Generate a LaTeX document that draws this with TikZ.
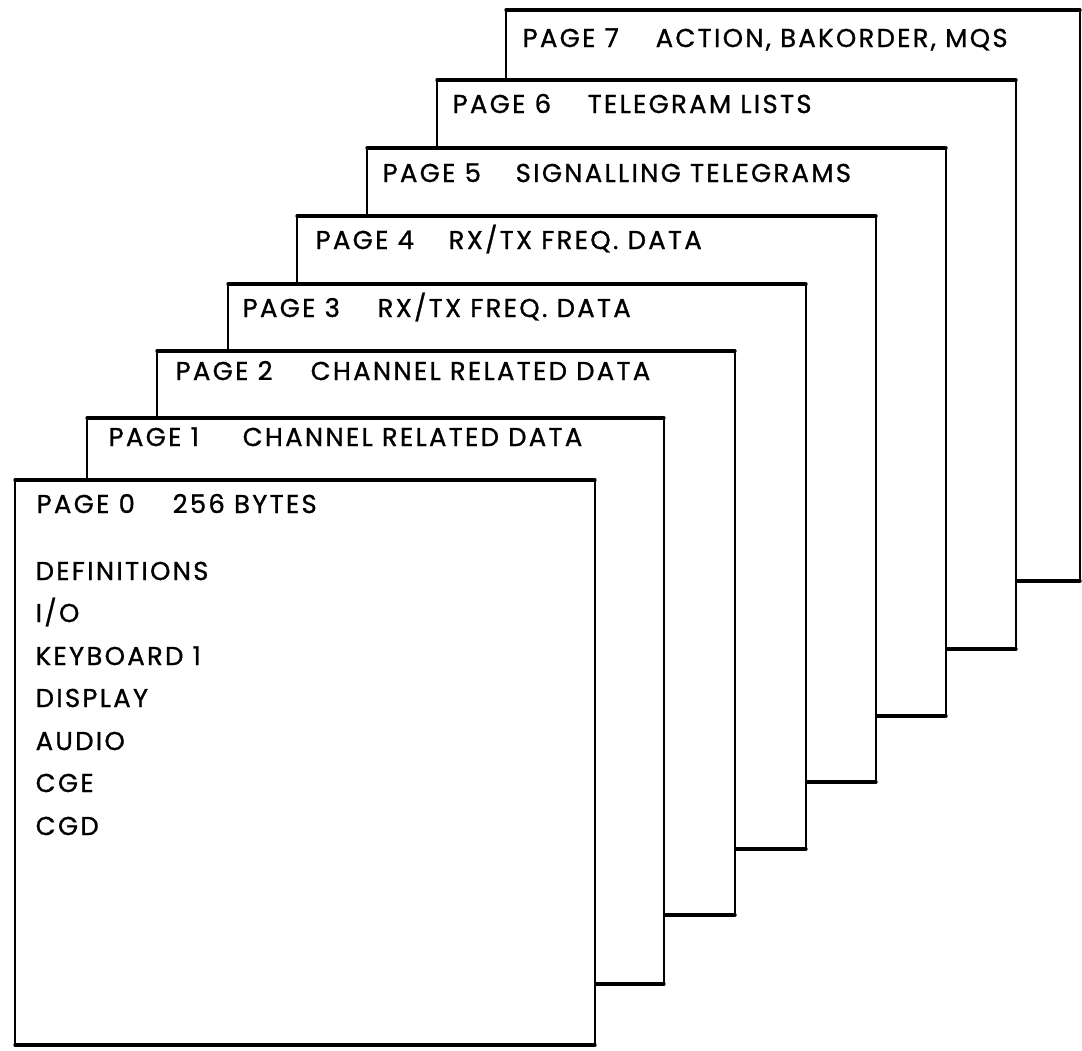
\documentclass[tikz,border=0pt]{standalone}
\usepackage{fontspec}
\newfontfamily\letterfont[LetterSpace=9,FakeBold=1]{Poppins}
\begin{document}
\begin{tikzpicture}[x=0.01cm,y=-0.01cm,
  sheetside/.style={line width=0.5pt},
  sheetedge/.style={line width=0.95pt, line cap=round},
  lettering/.style={anchor=base west, inner sep=0pt,
    font=\letterfont\fontsize{7.35}{8}\selectfont}]
\useasboundingbox (0,0) rectangle (1082,1050);

% stacked memory pages, drawn from the back (page 7) to the front (page 0)
\foreach \l/\t/\r/\b in {506/10/1080/581, 437/80/1016/649, 367/148/946/716,
    297/216/876/782, 228/284/806/849, 157/351/735/915, 87/418/664/984,
    15/480/595/1045}{
  \fill[white] (\l,\t) rectangle (\r,\b);
  \draw[sheetside] (\l,\t) -- (\l,\b) (\r,\t) -- (\r,\b);
  \draw[sheetedge] (\l,\t) -- (\r,\t) (\l,\b) -- (\r,\b);
}

% page headings
\node[lettering] (p7) at (522,47)  {PAGE 7};
\node[lettering] (d7) at (655,47)  {ACTION, BAKORDER, MQS};
\node[lettering] (p6) at (452,113) {PAGE 6};
\node[lettering] (d6) at (587,113) {TELEGRAM LISTS};
\node[lettering] (p5) at (382,182) {PAGE 5};
\node[lettering] (d5) at (515,182) {SIGNALLING TELEGRAMS};
\node[lettering] (p4) at (315,249) {PAGE 4};
\node[lettering] (d4) at (448,249) {RX/TX FREQ. DATA};
\node[lettering] (p3) at (242,317) {PAGE 3};
\node[lettering] (d3) at (377,317) {RX/TX FREQ. DATA};
\node[lettering] (p2) at (175,380) {PAGE 2};
\node[lettering] (d2) at (310,380) {CHANNEL RELATED DATA};
\node[lettering] (p1) at (108,446) {PAGE 1};
\node[lettering] (d1) at (242,446) {CHANNEL RELATED DATA};
\node[lettering] (p0) at (36,513)  {PAGE 0};
\node[lettering] (d0) at (172,513) {256 BYTES};

% contents of page 0
\node[lettering] (defs)  at (35,580) {DEFINITIONS};
\node[lettering] (io)    at (35,622) {I/O};
\node[lettering] (kbd)   at (35,665) {KEYBOARD 1};
\node[lettering] (disp)  at (35,707) {DISPLAY};
\node[lettering] (audio) at (35,750) {AUDIO};
\node[lettering] (cge)   at (35,792) {CGE};
\node[lettering] (cgd)   at (35,835) {CGD};
\end{tikzpicture}
\end{document}
